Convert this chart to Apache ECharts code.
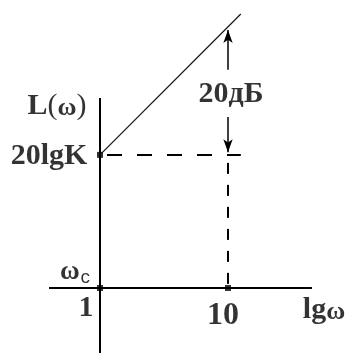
<!DOCTYPE html>
<html><head><meta charset="utf-8">
<script src="https://cdn.jsdelivr.net/npm/echarts@6/dist/echarts.min.js"></script>
<style>html,body{margin:0;padding:0;background:#fff}#c{width:350px;height:353px}</style>
</head><body><div id="c"></div>
<script>
// Asymptotic log-magnitude plot: x = lg(omega) (decades), y = L(omega) in dB
// marked frequencies (lg omega) and their labels
const freqLg = [0, 1];
const freqLabels = ['1', '10'];
// low-frequency level 20lgK (dB)
const levelK = 20.8;
// asymptote +20 dB/decade starting from omega = 1
const asymX = [0, 1.1];
const asymY = [20.8, 42.8];
// drawn extent of the coordinate axes
const xAxisEnds = [-0.398, 1.656];
const yAxisEnds = [-10.2, 29.7];
// dashed guide at 20lgK runs to this lg omega
const guideEnd = 1.1;
// double arrow marking the 20 dB rise over one decade
const arrowUp = [34.1, 40.3];
const arrowDown = [26.7, 21.2];
const riseLabelY = 30.2;
const riseLabel = '20дБ';

const FONT = '"Liberation Serif","Times New Roman",serif';
const SANS = '"Liberation Sans",Arial,sans-serif';
const black = '#000';

const chart = echarts.init(document.getElementById('c'), null, {renderer: 'canvas'});

function lineSeries(data, width, type, dashOffset, color) {
  return {
    type: 'line', data: data, symbol: 'none', silent: true, animation: false,
    lineStyle: {color: color || black, width: width, type: type || 'solid', dashOffset: dashOffset || 0}
  };
}

const rich = {
  b: {fontFamily: FONT, fontSize: 30, fontWeight: 'bold', color: black},
  p: {fontFamily: FONT, fontSize: 30, fontWeight: 'normal', color: black},
  w: {fontFamily: FONT, fontSize: 26, fontWeight: 'bold', color: black, padding: [4, 0, 0, 0]},
  ws: {fontFamily: FONT, fontSize: 27, fontWeight: 'bold', color: black},
  s: {fontFamily: SANS, fontSize: 19, fontWeight: 'normal', color: black, padding: [12, 0, 0, 1]},
  big: {fontFamily: FONT, fontSize: 32, fontWeight: 'bold', color: black}
};

function textItem(x, y, text, offset) {
  return {
    value: [x, y],
    label: {
      show: true, position: 'inside', offset: offset, formatter: text,
      color: black, fontFamily: FONT, fontSize: 30, fontWeight: 'bold', rich: rich
    }
  };
}

const option = {
  animation: false,
  backgroundColor: '#fff',
  grid: {left: 0, right: 0, top: 0, bottom: 0},
  xAxis: {type: 'value', min: -0.78125, max: 1.953125, show: false},
  yAxis: {type: 'value', min: -10.156, max: 45, show: false},
  series: [
    // coordinate axes
    lineSeries([[xAxisEnds[0], 0], [xAxisEnds[1], 0]], 2),
    lineSeries([[0, yAxisEnds[0]], [0, yAxisEnds[1]]], 2),
    // asymptote
    lineSeries(asymX.map((x, i) => [x, asymY[i]]), 1.3, 'solid', 0, '#1a1a1a'),
    // dashed guides
    lineSeries([[0, levelK], [guideEnd, levelK]], 2, [15, 15], 23),
    lineSeries([[freqLg[1], levelK], [freqLg[1], 0]], 2, [11, 11], 14),
    // arrows
    {
      type: 'line', data: [], silent: true, animation: false,
      markLine: {
        silent: true, animation: false,
        symbol: ['none', 'arrow'], symbolSize: [7, 13],
        label: {show: false},
        lineStyle: {color: black, width: 1.5, type: 'solid'},
        data: [
          [{coord: [freqLg[1], arrowUp[0]]}, {coord: [freqLg[1], arrowUp[1]]}],
          [{coord: [freqLg[1], arrowDown[0]]}, {coord: [freqLg[1], arrowDown[1]]}]
        ]
      }
    },
    // marked points
    {
      type: 'scatter', silent: true, animation: false,
      symbol: 'rect', symbolSize: 6, itemStyle: {color: black},
      data: [[freqLg[0], 0], [freqLg[1], 0], [0, levelK]]
    },
    // text labels
    {
      type: 'scatter', silent: true, animation: false,
      symbolSize: 1, itemStyle: {color: 'rgba(0,0,0,0)'},
      data: [
        textItem(0, yAxisEnds[1], '{b|L}{p|(}{w|ω}{p|)}', [-43, 8]),
        textItem(0, levelK, '20lgK', [-51, 1]),
        textItem(0, 0, '{ws|ω}{s|c}', [-25, -16]),
        textItem(freqLg[0], 0, freqLabels[0], [-14, 20]),
        textItem(freqLg[1], 0, '{big|' + freqLabels[1] + '}', [-5, 28]),
        textItem(xAxisEnds[1], 0, '{b|lg}{w|ω}', [12, 22]),
        textItem(freqLg[1], riseLabelY, riseLabel, [3, 0])
      ]
    }
  ]
};
chart.setOption(option);
</script>
</body></html>
